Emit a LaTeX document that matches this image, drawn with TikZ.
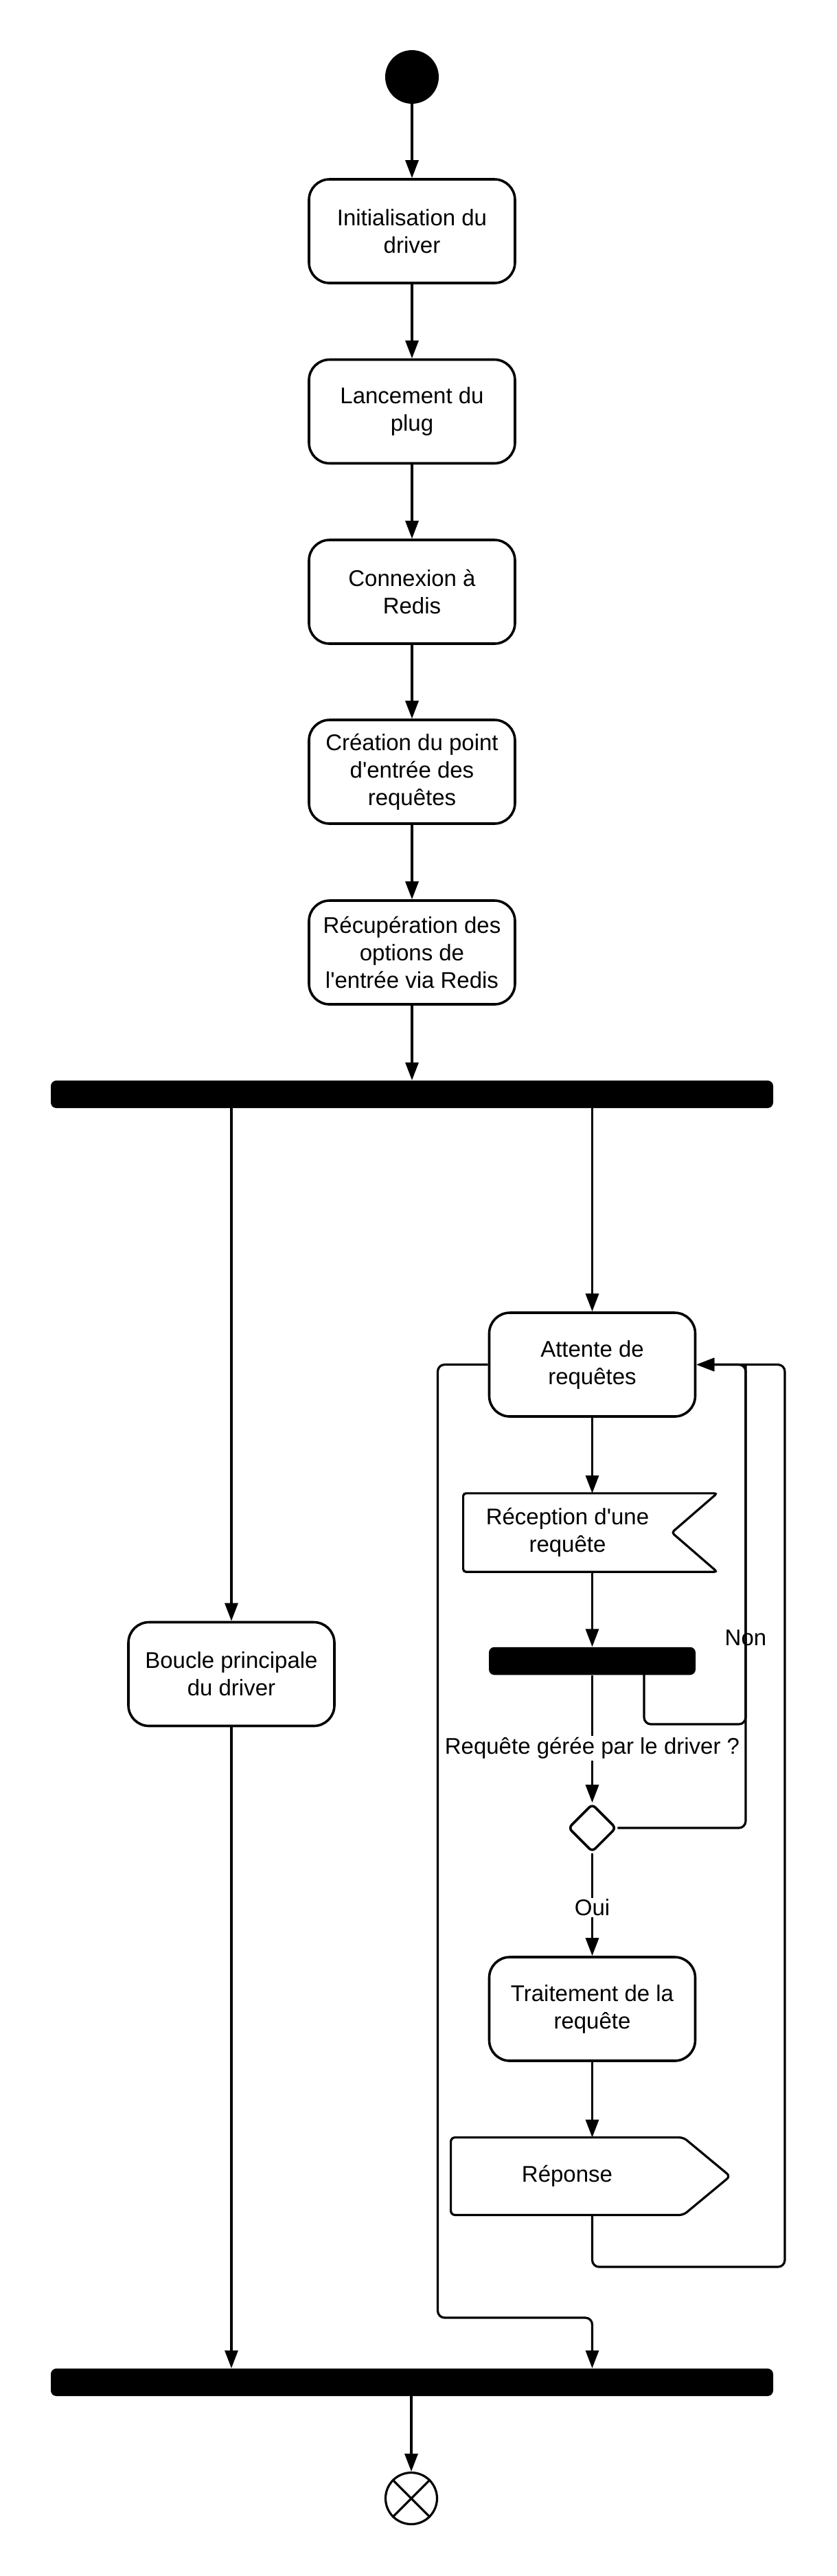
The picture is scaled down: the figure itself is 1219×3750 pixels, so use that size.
\documentclass[tikz,border=0pt]{standalone}
\usepackage{fontspec}
\setmainfont{Liberation Sans}
\usetikzlibrary{arrows.meta,shapes.geometric,calc}
\begin{document}
\begin{tikzpicture}[x=0.5pt,y=-0.5pt,
  font=\fontsize{16.5}{20}\selectfont,
  act/.style={draw,line width=1.8pt,rounded corners=15pt,minimum width=150pt,minimum height=75.5pt,align=center,inner sep=2pt},
  barn/.style={fill=black,rounded corners=4pt,inner sep=0pt},
  flow/.style={line width=1.6pt,-{Triangle[length=13pt,width=9.5pt]}},
  wire/.style={line width=1.6pt},
  lbl/.style={fill=white,inner sep=1pt}
]
\useasboundingbox (0,0) rectangle (1219,3750);

% nodes
\node[circle,fill=black,minimum size=39pt,inner sep=0pt] (start) at (600,112) {};
\node[act] (a1) at (600,336.5) {Initialisation du\\driver};
\node[act] (a2) at (600,599) {Lancement du\\plug};
\node[act] (a3) at (600,861.5) {Connexion à\\Redis};
\node[act] (a4) at (600,1123.5) {Création du point\\d\textquotesingle entrée des\\requêtes};
\node[act] (a5) at (600,1386.5) {Récupération des\\options de\\l\textquotesingle entrée via Redis};
\node[barn,minimum width=526pt,minimum height=20pt] (fork) at (600,1593) {};
\node[act] (bcl) at (337,2437) {Boucle principale\\du driver};
\node[act] (att) at (862.5,1986.5) {Attente de\\requêtes};
\node[minimum width=151.5pt,minimum height=56.75pt,inner sep=0pt,align=center] (rec) at (826.5,2231) {Réception d\textquotesingle une\\requête};
\draw[line width=1.6pt,rounded corners=2pt] (rec.north west) -- ($(rec.north east)+(66,0)$) -- (rec.east) -- ($(rec.south east)+(66,0)$) -- (rec.south west) -- cycle;
\node[barn,minimum width=150.5pt,minimum height=20.25pt] (bar2) at (862.5,2418) {};
\node[diamond,draw,line width=1.8pt,minimum width=35pt,minimum height=35pt,inner sep=0pt,rounded corners=3pt] (dec) at (862.5,2661) {};
\node[act] (trt) at (862.5,2924.5) {Traitement de la\\requête};
\node[minimum width=169pt,minimum height=56pt,inner sep=0pt] (rep) at (826,3168) {Réponse};
\draw[line width=1.6pt,rounded corners=3pt] (rep.north west) -- (rep.north east) -- ($(rep.east)+(68,0)$) -- (rep.south east) -- (rep.south west) -- cycle;
\node[barn,minimum width=526pt,minimum height=20pt] (join) at (600,3468) {};
\node[circle,draw,line width=1.6pt,minimum size=37.5pt,inner sep=0pt] (end) at (599,3637) {};
\draw[wire] (end.north west) -- (end.south east) (end.north east) -- (end.south west);

% free-end coordinates
\coordinate (nonx) at (1086,1986.5);
\coordinate (nony) at (1086,2510);
\coordinate (b2o) at (938,2438);
\coordinate (rr) at (1143,3300);
\coordinate (ll) at (637.5,3374);

% connectors
\draw[flow] (start) -- (a1);
\draw[flow] (a1) -- (a2);
\draw[flow] (a2) -- (a3);
\draw[flow] (a3) -- (a4);
\draw[flow] (a4) -- (a5);
\draw[flow] (a5) -- (fork);
\draw[flow] (fork.south -| bcl.north) -- (bcl.north);
\draw[flow] (fork.south -| att.north) -- (att.north);
\draw[flow] (bcl.south) -- (bcl.south |- join.north);
\draw[flow] (att.south) -- (att.south |- rec.north);
\draw[flow] (att.south |- rec.south) -- (bar2.north);
\draw[flow] (bar2.south) -- (dec.north);
\node[lbl] (q) at (862.5,2545) {Requête gérée par le driver ?};
\draw[flow] (dec.south) -- (trt.north);
\node[lbl] (oui) at (862.5,2777) {Oui};
\draw[flow] (trt.south) -- (trt.south |- rep.north);
\draw[flow,rounded corners=5pt] (dec.east) -| (nonx) -- (att.east);
\draw[wire,rounded corners=5pt] (b2o) |- (nony) -- (nonx);
\node (non) at (1086,2384) {Non};
\draw[flow,rounded corners=5pt] (att.south |- rep.south) |- (rr) -- (rr |- att.east) -- (att.east);
\draw[flow,rounded corners=5pt] (att.west) -| (ll) -| (att.south |- join.north);
\draw[flow] (join.south -| end.north) -- (end.north);
\end{tikzpicture}
\end{document}
